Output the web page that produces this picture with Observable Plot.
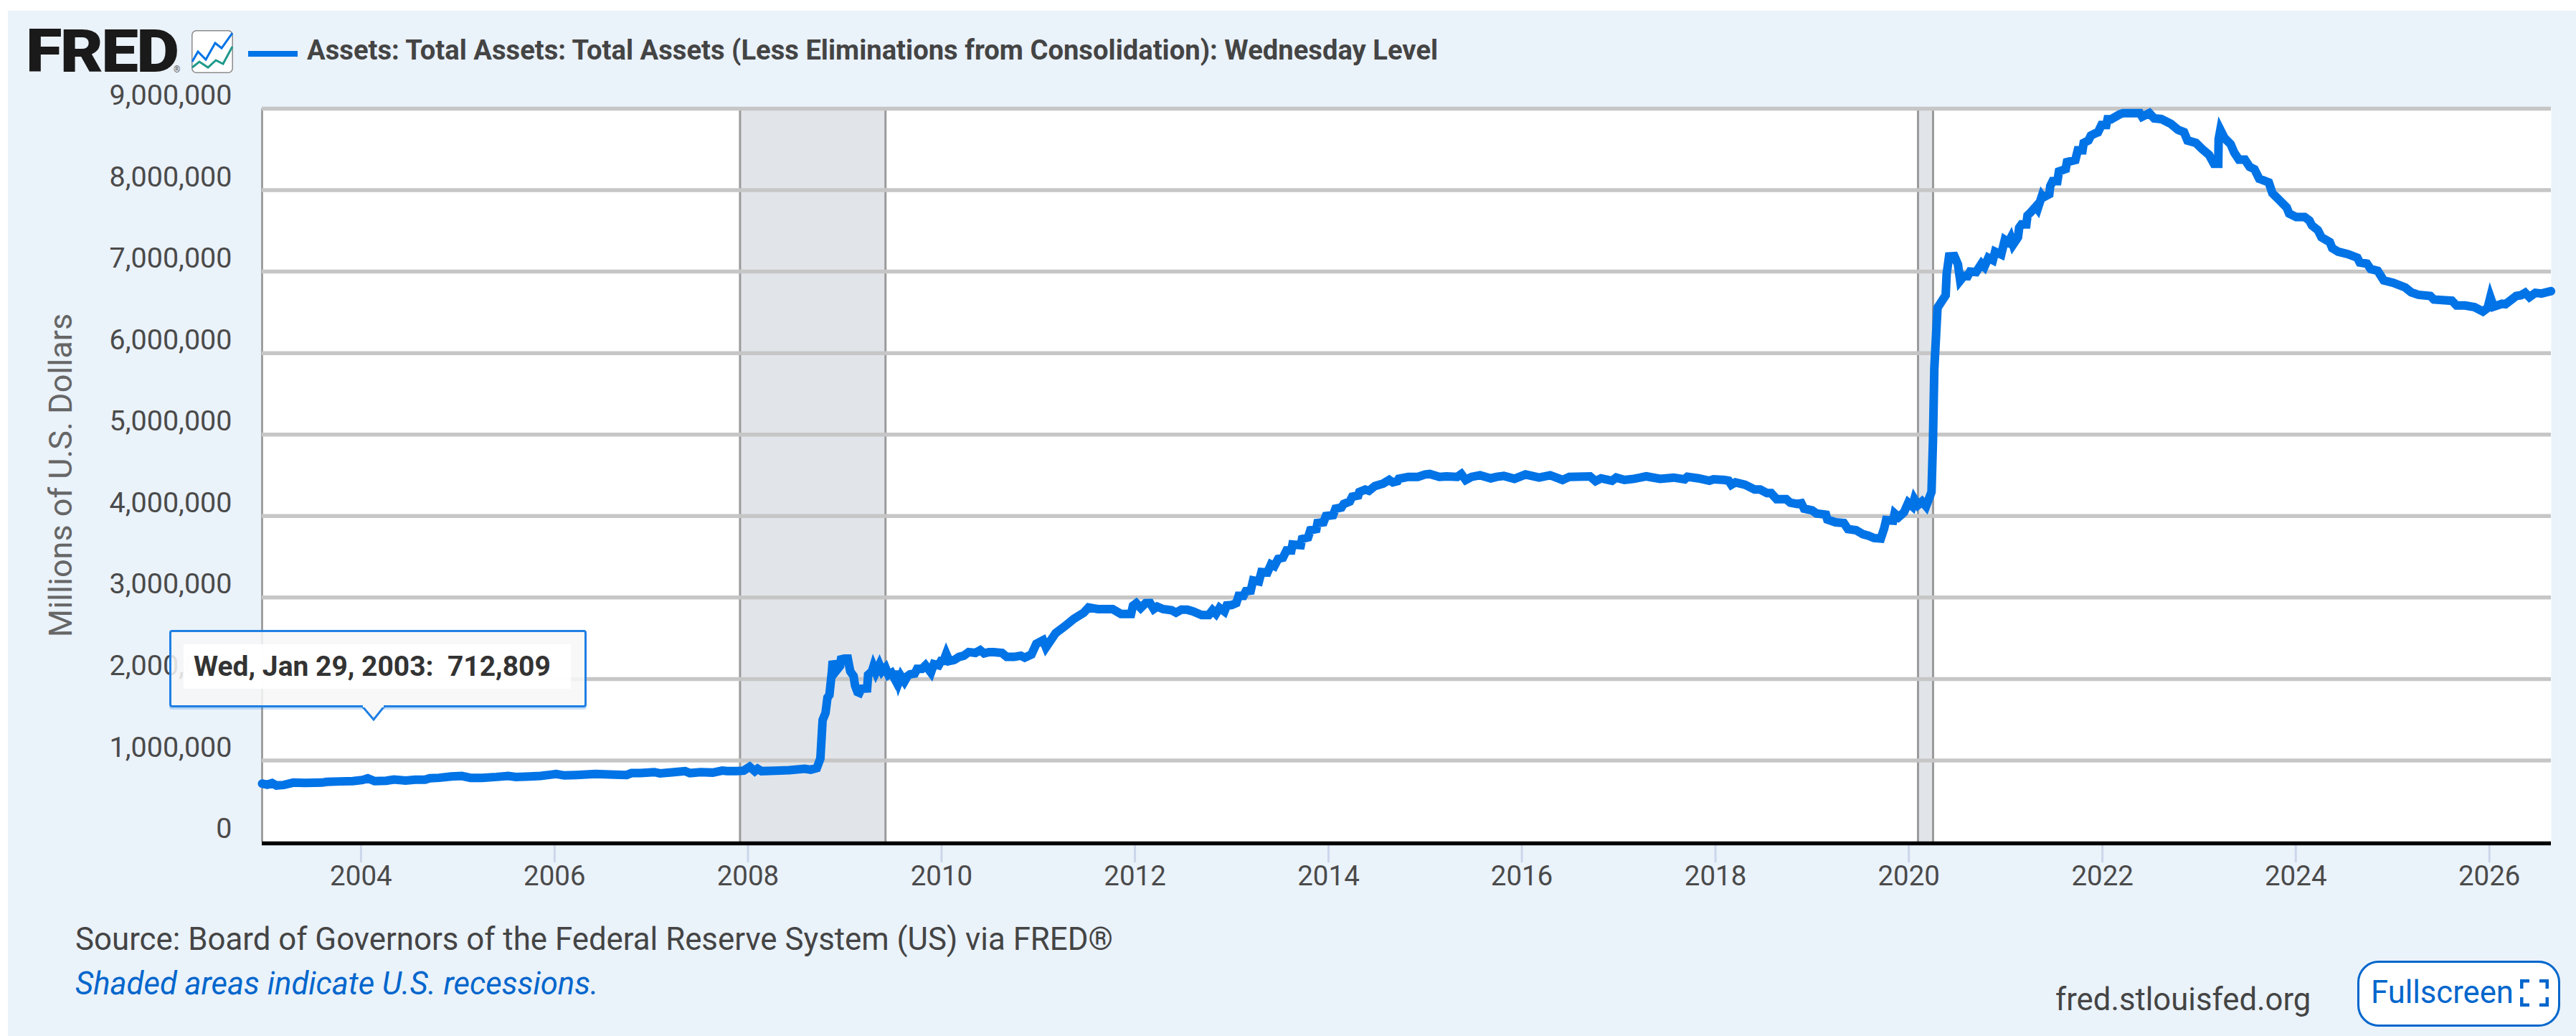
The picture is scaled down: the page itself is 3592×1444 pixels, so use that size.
<!DOCTYPE html>
<html>
<head>
<meta charset="utf-8">
<script src="https://cdn.jsdelivr.net/npm/d3@7"></script>
<script src="https://cdn.jsdelivr.net/npm/@observablehq/plot@0.6"></script>
<style>
html,body{margin:0;padding:0;background:#fff;width:3592px;height:1444px;overflow:hidden;font-family:Roboto,sans-serif}
#bg{position:absolute;left:11px;top:15px;right:0;bottom:0;background:#eaf2fa}
.abs{position:absolute;white-space:pre}
#chart{position:absolute;left:0;top:105px}
#logo{left:36px;top:30px;font:900 84px/1 Roboto;letter-spacing:-2.5px;color:#1a1a1a;transform:scaleX(1.1);transform-origin:left center}
#reg{left:242px;top:91px;font:400 12px/1 Roboto;color:#555}
#swatch{left:346px;top:71px;width:69px;height:8px;background:#0073e6}
#title{left:428px;top:48px;font:700 38.2px/44px Roboto;color:#444}
#source{left:105px;top:1285px;font:400 43.8px/48px Roboto;color:#444}
#shaded{left:105px;top:1347px;font:italic 400 43.7px/48px Roboto;color:#0066cc}
#site{left:2866px;top:1369px;font:400 43.7px/48px Roboto;color:#444}
#btn{left:3287px;top:1339px;width:277px;height:86px;border:3px solid #0066cc;border-radius:30px;background:#fff}
#btnText{left:3306px;top:1360px;font:400 43.6px/48px Roboto;color:#0066cc}
#tip{left:236px;top:878px;width:576px;height:102px;border:3px solid #1f7fe3;border-radius:4px;background:rgba(247,247,247,.86);box-shadow:0 3px 0 rgba(31,127,227,.25)}
#tipInner{left:256px;top:898px;width:540px;height:62px;background:#fff;opacity:.93}
#tipText{left:270px;top:906px;font:700 39px/46px Roboto;color:#333}
</style>
</head>
<body>
<div id="bg"></div>
<div id="chart"></div>
<div class="abs" id="logo">FRED</div>
<div class="abs" id="reg">®</div>
<svg class="abs" style="left:267px;top:42px" width="58" height="60" viewBox="0 0 58 60">
  <rect x="0.8" y="0.8" width="56.4" height="58.4" rx="6" fill="#fff" stroke="#8a8a8a" stroke-width="1.5"/>
  <polyline points="1,44 9,30 20,41 33,18 42,25 57,4" fill="none" stroke="#0073e6" stroke-width="3"/>
  <polyline points="1,52 11,44 23,52 34,42 44,47 57,23" fill="none" stroke="#1d9a8a" stroke-width="3"/>
</svg>
<div class="abs" id="swatch"></div>
<div class="abs" id="title">Assets: Total Assets: Total Assets (Less Eliminations from Consolidation): Wednesday Level</div>
<div class="abs" id="tip"></div>
<svg class="abs" style="left:503px;top:983px" width="36" height="22" viewBox="0 0 36 22">
  <polygon points="1,0 18,20 34,0" fill="#f8f8f8" stroke="#1f7fe3" stroke-width="3"/>
  <rect x="3" y="0" width="29" height="3" fill="#f8f8f8"/>
</svg>
<div class="abs" id="tipInner"></div>
<div class="abs" id="tipText">Wed, Jan 29, 2003:  712,809</div>
<div class="abs" id="source">Source: Board of Governors of the Federal Reserve System (US) via FRED®</div>
<div class="abs" id="shaded">Shaded areas indicate U.S. recessions.</div>
<div class="abs" id="site">fred.stlouisfed.org</div>
<div class="abs" id="btn"></div>
<div class="abs" id="btnText">Fullscreen</div>
<svg class="abs" style="left:3514px;top:1365px" width="40" height="38" viewBox="0 0 40 38">
  <path d="M2 13V2H13M27 2H38V13M2 25V36H13M27 36H38V25" fill="none" stroke="#0066cc" stroke-width="5"/>
</svg>
<script>
// Dates are decimal years; values are millions of U.S. dollars.
const yearsEarly = [2002.977,2003.03,2003.08,2003.125,2003.2,2003.3,2003.42,2003.595,2003.645,2003.79,2003.916,2004.015,2004.07,2004.14,2004.26,2004.34,2004.46,2004.56,2004.66,2004.71,2004.805,2004.93,2005.04,2005.13,2005.25,2005.40,2005.52,2005.6,2005.745,2005.855,2005.94,2006.016,2006.1,2006.226,2006.424,2006.57,2006.745,2006.795,2006.89,2007.03,2007.09,2007.215,2007.35,2007.4,2007.51,2007.635,2007.734,2007.783,2007.88,2007.956,2008.018,2008.07,2008.1,2008.14,2008.277,2008.425,2008.586,2008.648];
const assetsEarly = [716000,702000,722000,693000,699000,728000,725000,728000,737000,743000,746000,760000,781000,746000,751000,766000,754000,763000,763000,781000,787000,804000,810000,787000,787000,798000,810000,798000,804000,810000,822000,834000,816000,822000,834000,828000,822000,845000,845000,857000,842000,854000,869000,845000,857000,851000,875000,869000,869000,875000,922000,869000,898000,869000,875000,881000,898000,886000];
const yearsCrisis = [2008.71,2008.747,2008.77,2008.80,2008.82,2008.84,2008.866,2008.874,2008.91,2008.95,2008.96,2008.994,2009.03,2009.055,2009.09,2009.105,2009.13,2009.15,2009.17];
const assetsCrisis = [907000,1024000,1495000,1583000,1772000,1803000,2095000,2220000,2100000,2160000,2240000,2250000,2250000,2095000,2036000,1919000,1840000,1830000,1880000];
const years2009 = [2009.23,2009.24,2009.28,2009.295,2009.32,2009.357,2009.385,2009.42,2009.45,2009.483,2009.513,2009.53,2009.557,2009.58,2009.616,2009.648,2009.673,2009.722,2009.747,2009.797,2009.834,2009.89,2009.92,2009.97,2009.994,2010.02,2010.048,2010.08];
const assets2009 = [1884000,2051000,2095000,2153000,2080000,2174000,2095000,2139000,2051000,2075000,2007000,2095000,1963000,2036000,1969000,2036000,2057000,2066000,2124000,2124000,2168000,2080000,2183000,2168000,2221000,2221000,2309000,2221000];
const years2010 = [2010.13,2010.18,2010.23,2010.28,2010.35,2010.40,2010.44,2010.49,2010.54,2010.625,2010.674,2010.75,2010.82,2010.86,2010.93,2010.98,2011.05,2011.08,2011.18,2011.28,2011.37,2011.47,2011.52,2011.617,2011.77,2011.855,2011.96,2011.98,2012.014,2012.06,2012.11,2012.157,2012.194,2012.23,2012.29,2012.379,2012.424,2012.478,2012.54,2012.60,2012.688,2012.762,2012.80,2012.836,2012.873,2012.923,2012.947,2012.997,2013.046,2013.07,2013.12,2013.145,2013.195,2013.22,2013.28,2013.306,2013.368,2013.405,2013.44,2013.479,2013.528,2013.565,2013.615,2013.627,2013.713,2013.726,2013.788,2013.812,2013.874,2013.886,2013.948,2013.973,2014.047,2014.072,2014.134,2014.158,2014.22,2014.245,2014.307,2014.319,2014.38,2014.418,2014.48,2014.566,2014.628,2014.665,2014.714,2014.727,2014.825,2014.924,2014.998,2015.048,2015.147,2015.22,2015.332,2015.374,2015.419,2015.48,2015.567,2015.678,2015.74,2015.814,2015.923,2016.037,2016.178,2016.292,2016.42,2016.49,2016.703,2016.76,2016.817,2016.93,2016.973,2017.058,2017.157,2017.285,2017.427,2017.568,2017.682,2017.71,2017.824,2017.937,2017.98,2018.093,2018.136,2018.164,2018.207,2018.306,2018.405,2018.462,2018.533,2018.576,2018.632,2018.732,2018.774,2018.845,2018.888,2018.916,2019.0,2019.044,2019.143,2019.157,2019.242,2019.328,2019.37,2019.455,2019.526,2019.583,2019.64,2019.71,2019.745,2019.765,2019.838,2019.853,2019.895,2019.95,2019.994,2020.036,2020.057,2020.094,2020.136,2020.178,2020.234,2020.249,2020.263,2020.296,2020.38,2020.39,2020.415,2020.47,2020.507];
const assets2010 = [2233000,2271000,2286000,2330000,2320000,2353000,2315000,2330000,2330000,2320000,2271000,2271000,2286000,2262000,2300000,2432000,2476000,2388000,2564000,2652000,2740000,2813000,2878000,2858000,2858000,2799000,2799000,2900000,2930000,2872000,2930000,2932000,2858000,2888000,2858000,2844000,2814000,2850000,2850000,2830000,2785000,2785000,2844000,2800000,2873000,2829000,2902000,2908000,2932000,3020000,3020000,3078000,3084000,3210000,3196000,3313000,3307000,3407000,3386000,3474000,3489000,3577000,3577000,3650000,3642000,3718000,3738000,3826000,3841000,3915000,3923000,4000000,4011000,4090000,4105000,4149000,4179000,4237000,4252000,4296000,4325000,4310000,4369000,4399000,4443000,4413000,4428000,4457000,4481000,4481000,4510000,4516000,4481000,4487000,4481000,4516000,4443000,4481000,4501000,4463000,4481000,4492000,4457000,4510000,4472000,4501000,4443000,4481000,4487000,4428000,4463000,4434000,4472000,4443000,4457000,4487000,4457000,4472000,4451000,4481000,4463000,4434000,4451000,4443000,4434000,4384000,4413000,4384000,4325000,4325000,4281000,4281000,4208000,4208000,4164000,4149000,4158000,4091000,4070000,4032000,4017000,3958000,3923000,3914000,3841000,3826000,3777000,3759000,3730000,3724000,3850000,3950000,3944000,4032000,3988000,4046000,4164000,4120000,4208000,4135000,4179000,4120000,4297000,4926000,5810000,6556000,6710000,6970000,7186000,7190000,7087000];
const years2020 = [2020.53,2020.57,2020.607,2020.632,2020.694,2020.75,2020.78,2020.82,2020.867,2020.89,2020.953,2020.99,2021.028,2021.052,2021.075,2021.126,2021.139,2021.163,2021.213,2021.225,2021.26,2021.312,2021.33,2021.374,2021.386,2021.45,2021.46,2021.485,2021.534,2021.55,2021.62,2021.633,2021.72,2021.745,2021.794,2021.806,2021.855,2021.88,2021.93,2021.954,2021.99,2022.04,2022.053,2022.09,2022.177,2022.214];
const assets2020 = [6890000,6950000,6945000,7000000,6995000,7098000,7060000,7170000,7140000,7245000,7210000,7390000,7360000,7415000,7330000,7420000,7540000,7580000,7580000,7690000,7730000,7800000,7770000,7930000,7910000,7950000,8050000,8110000,8110000,8230000,8260000,8345000,8370000,8490000,8490000,8580000,8610000,8670000,8700000,8710000,8800000,8800000,8870000,8870000,8930000,8946000];
const years2022 = [2022.288,2022.387,2022.41,2022.485,2022.535,2022.609,2022.708,2022.782,2022.844,2022.88,2022.967,2023.03,2023.103,2023.153,2023.198,2023.202,2023.22,2023.264,2023.326,2023.363,2023.412,2023.474,2023.523,2023.573,2023.622,2023.721,2023.758,2023.82,2023.906,2023.931,2024.005,2024.092,2024.141,2024.166,2024.228,2024.265,2024.351,2024.376,2024.438,2024.537,2024.635,2024.66,2024.734,2024.771,2024.845,2024.907,2025.006,2025.13,2025.191,2025.265,2025.389,2025.426,2025.612,2025.66,2025.747,2025.846,2025.933,2025.982,2026.01,2026.044,2026.13,2026.167,2026.278,2026.328,2026.37,2026.414,2026.476,2026.538,2026.637];
const assets2022 = [8946000,8946000,8902000,8946000,8882000,8873000,8814000,8741000,8712000,8609000,8580000,8506000,8433000,8324000,8324000,8624000,8741000,8638000,8565000,8462000,8374000,8374000,8286000,8257000,8140000,8095000,7963000,7890000,7787000,7714000,7670000,7670000,7626000,7567000,7509000,7421000,7362000,7289000,7245000,7215000,7171000,7113000,7098000,7033000,7010000,6893000,6863000,6805000,6746000,6716000,6702000,6658000,6643000,6584000,6584000,6564000,6511000,6555000,6687000,6570000,6605000,6600000,6702000,6711000,6740000,6687000,6740000,6731000,6760000];
const years = [...yearsEarly,...yearsCrisis,...years2009,...years2010,...years2020,...years2022];
const assets = [...assetsEarly,...assetsCrisis,...assets2009,...assets2010,...assets2020,...assets2022];
const yTicks = [0,1000000,2000000,3000000,4000000,5000000,6000000,7000000,8000000,9000000];
const xTickYears = [2004,2006,2008,2010,2012,2014,2016,2018,2020,2022,2024,2026];
const recessionStart = [2007.918,2020.095];
const recessionEnd = [2009.42,2020.25];
const yAxisTitle = ["Millions of U.S. Dollars"];
const xStart = 2002.977, xEnd = 2026.64;

const toDate = y => { const f = Math.floor(y); const a = Date.UTC(f,0,1), b = Date.UTC(f+1,0,1); return new Date(a + (y-f)*(b-a)); };
const series = years.map((y,i)=>({date:toDate(y),value:assets[i]}));
const bands = recessionStart.map((s,i)=>({start:toDate(s),end:toDate(recessionEnd[i])}));
const fmt = d3.format(",");

const chart = Plot.plot({
  width:3592, height:1140,
  marginLeft:365, marginRight:35, marginTop:46, marginBottom:72,
  style:{background:"transparent",fontFamily:"Roboto",overflow:"visible"},
  x:{type:"time",domain:[toDate(xStart),toDate(xEnd)]},
  y:{domain:[0,9000000]},
  marks:[
    Plot.frame({fill:"#fff",stroke:"none"}),
    Plot.rect(bands,{x1:"start",x2:"end",y1:0,y2:9000000,fill:"#e1e5ea"}),
    Plot.ruleX(bands,{x:"start",y1:0,y2:9000000,stroke:"#9a9a9a",strokeWidth:3}),
    Plot.ruleX(bands,{x:"end",y1:0,y2:9000000,stroke:"#9a9a9a",strokeWidth:3}),
    Plot.ruleX([toDate(xStart)],{stroke:"#8f8f8f",strokeWidth:2.5}),
    Plot.ruleY(yTicks.slice(1),{stroke:"#c6c6c6",strokeWidth:5.5,strokeOpacity:1}),
    Plot.axisY({ticks:yTicks,tickFormat:fmt,tickSize:0,tickPadding:42,fontSize:39.5,color:"#4a4a4a",dy:-18,label:null}),
    Plot.text(yAxisTitle,{text:d=>d,frameAnchor:"left",textAnchor:"middle",dx:-280,rotate:-90,fontSize:45,fill:"#666"}),
    Plot.axisX({ticks:xTickYears.map(y=>toDate(y)),tickFormat:d=>String(d.getUTCFullYear()),tickSize:29,tickPadding:4,
      fontSize:38.5,stroke:"#ccd6eb",strokeWidth:3,color:"#4a4a4a",label:null}),
    Plot.line(series,{x:"date",y:"value",stroke:"#0073e6",strokeWidth:12,strokeLinejoin:"miter",strokeMiterlimit:4,curve:"linear"}),
    Plot.ruleY([0],{stroke:"#000",strokeWidth:5.5,dy:2})
  ]
});
document.getElementById("chart").appendChild(chart);
</script>
</body>
</html>
